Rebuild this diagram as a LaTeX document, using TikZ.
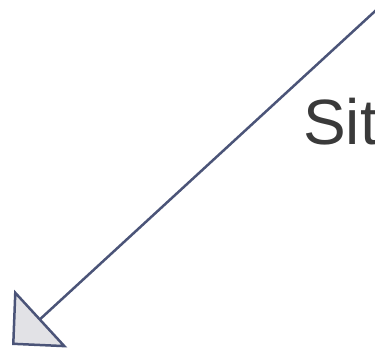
\documentclass[tikz,border=0pt]{standalone}
\usepackage{fontspec}
\setmainfont{Liberation Sans}
\usepackage{xcolor}
\usetikzlibrary{arrows.meta}
\definecolor{linkblue}{HTML}{4B5478}
\definecolor{textgray}{HTML}{3A3A3A}
\definecolor{tipfill}{HTML}{E2E2E6}

\begin{document}
\begin{tikzpicture}[x=1pt, y=1pt,
  link/.style={draw=linkblue, line width=2.5pt,
    -{Triangle[open, length=39pt, width=78pt, fill=tipfill]}},
  word/.style={font=\fontsize{64}{70}\selectfont, text=textgray, inner sep=0pt, anchor=base west},
]
\clip (0,0) rectangle (375,354);
\useasboundingbox (0,0) rectangle (375,354);
% ends of the connector
\coordinate (from) at (385,352);
\coordinate (to) at (12,9);
% label, cut off at the right
\node[word] (sit) at (303,209) {Sit};
\draw[link] (from) -- (to);
\end{tikzpicture}
\end{document}
